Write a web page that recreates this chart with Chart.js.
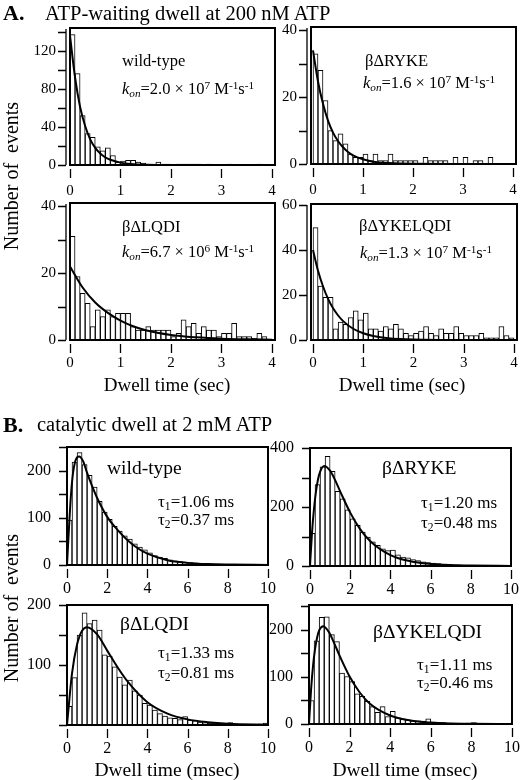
<!DOCTYPE html>
<html>
<head>
<meta charset="utf-8">
<script src="https://cdn.jsdelivr.net/npm/chart.js@4"></script>
<style>
  body { margin: 0; background: #fff; width: 520px; height: 780px; position: relative; overflow: hidden; font-family: "Liberation Serif", "DejaVu Serif", serif; }
  .panel { position: absolute; }
  .t { position: absolute; white-space: nowrap; line-height: 1; color: #000; z-index: 5; }
  .t sub { font-size: 0.68em; vertical-align: -0.25em; }
  .t sup { font-size: 0.68em; vertical-align: 0.45em; }
  .c { transform: translateX(-50%); }
  .rot { transform: translate(-50%, -50%) rotate(-90deg); font-size: 20px; }
</style>
</head>
<body>

<div class="t" style="left:3px;top:2px;font-size:22px;font-weight:bold">A.</div>
<div class="t" style="left:45px;top:3px;font-size:20.5px">ATP-waiting dwell at 200 nM ATP</div>
<div class="t" style="left:3px;top:414px;font-size:22px;font-weight:bold">B.</div>
<div class="t" style="left:37px;top:414px;font-size:20.5px">catalytic dwell at 2 mM ATP</div>

<div class="t" style="left:122px;top:53px;font-size:16.5px">wild-type</div>
<div class="t" style="left:122px;top:80px;font-size:16.5px"><i>k</i><sub><i>on</i></sub>=2.0 × 10<sup>7</sup> M<sup>-1</sup>s<sup>-1</sup></div>
<div class="t" style="left:365px;top:53px;font-size:16.5px">βΔRYKE</div>
<div class="t" style="left:363px;top:74px;font-size:16.5px"><i>k</i><sub><i>on</i></sub>=1.6 × 10<sup>7</sup> M<sup>-1</sup>s<sup>-1</sup></div>
<div class="t" style="left:122px;top:219px;font-size:16.5px">βΔLQDI</div>
<div class="t" style="left:122px;top:243px;font-size:16.5px"><i>k</i><sub><i>on</i></sub>=6.7 × 10<sup>6</sup> M<sup>-1</sup>s<sup>-1</sup></div>
<div class="t" style="left:359px;top:218px;font-size:16.5px">βΔYKELQDI</div>
<div class="t" style="left:360px;top:244px;font-size:16.5px"><i>k</i><sub><i>on</i></sub>=1.3 × 10<sup>7</sup> M<sup>-1</sup>s<sup>-1</sup></div>

<div class="t" style="left:107px;top:458px;font-size:19.5px">wild-type</div>
<div class="t" style="left:158px;top:493px;font-size:17px">τ<sub>1</sub>=1.06 ms</div>
<div class="t" style="left:158px;top:511px;font-size:17px">τ<sub>2</sub>=0.37 ms</div>
<div class="t" style="left:382px;top:458px;font-size:19.5px">βΔRYKE</div>
<div class="t" style="left:421px;top:494px;font-size:17px">τ<sub>1</sub>=1.20 ms</div>
<div class="t" style="left:421px;top:514px;font-size:17px">τ<sub>2</sub>=0.48 ms</div>
<div class="t" style="left:120px;top:614px;font-size:19.5px">βΔLQDI</div>
<div class="t" style="left:158px;top:644px;font-size:17px">τ<sub>1</sub>=1.33 ms</div>
<div class="t" style="left:158px;top:664px;font-size:17px">τ<sub>2</sub>=0.81 ms</div>
<div class="t" style="left:373px;top:622px;font-size:19.5px">βΔYKELQDI</div>
<div class="t" style="left:417px;top:656px;font-size:17px">τ<sub>1</sub>=1.11 ms</div>
<div class="t" style="left:417px;top:674px;font-size:17px">τ<sub>2</sub>=0.46 ms</div>

<div class="t c" style="left:167px;top:375px;font-size:19px">Dwell time (sec)</div>
<div class="t c" style="left:402px;top:375px;font-size:19px">Dwell time (sec)</div>
<div class="t c" style="left:167px;top:760px;font-size:19.5px">Dwell time (msec)</div>
<div class="t c" style="left:405px;top:760px;font-size:19.5px">Dwell time (msec)</div>
<div class="t rot" style="left:11px;top:176px">Number of&nbsp; events</div>
<div class="t rot" style="left:11px;top:608px">Number of&nbsp; events</div>

<script>
// bin centres (0.1 s bins for A, 0.25 ms bins for B)
const secBins = [0.05, 0.15, 0.25, 0.35, 0.45, 0.55, 0.65, 0.75, 0.85, 0.95,
                 1.05, 1.15, 1.25, 1.35, 1.45, 1.55, 1.65, 1.75, 1.85, 1.95,
                 2.05, 2.15, 2.25, 2.35, 2.45, 2.55, 2.65, 2.75, 2.85, 2.95,
                 3.05, 3.15, 3.25, 3.35, 3.45, 3.55, 3.65, 3.75, 3.85, 3.95];
const msBins = [0.125, 0.375, 0.625, 0.875, 1.125, 1.375, 1.625, 1.875, 2.125, 2.375,
                2.625, 2.875, 3.125, 3.375, 3.625, 3.875, 4.125, 4.375, 4.625, 4.875,
                5.125, 5.375, 5.625, 5.875, 6.125, 6.375, 6.625, 6.875, 7.125, 7.375,
                7.625, 7.875, 8.125, 8.375, 8.625, 8.875, 9.125, 9.375, 9.625, 9.875];

// A. ATP-waiting dwell histograms (counts per bin)
const wtWait     = [137, 96, 52, 33, 29, 19, 15, 18, 10, 3, 4, 5, 5, 3, 2, 1, 1, 3, 1, 1,
                    0, 1, 1, 1, 1, 1, 0, 1, 0, 0, 0, 1, 0, 0, 0, 0, 0, 1, 0, 0];
const rykeWait   = [33, 28, 19, 10, 7, 9, 6, 3, 2, 2, 3, 1, 3, 1, 1, 3, 1, 1, 1, 1,
                    1, 0, 2, 1, 1, 1, 1, 0, 2, 0, 2, 0, 1, 1, 0, 2, 0, 0, 0, 0];
const lqdiWait   = [31, 19, 14, 11, 4, 9, 7, 9, 7, 8, 8, 8, 4, 3, 3, 4, 3, 3, 3, 3,
                    1, 2, 6, 4, 5, 2, 4, 3, 3, 1, 2, 2, 5, 1, 1, 1, 0.5, 2, 1, 0];
const ykelWait   = [50, 24, 19, 19, 5, 8, 7, 10, 13, 9, 12, 5, 5, 4, 6, 5, 7, 5, 3, 2,
                    3, 4, 6, 3, 2, 5, 3, 3, 6, 3, 2, 2, 2, 3, 1, 1, 1, 6, 2, 1];

// fitted single exponentials
const waitFitX   = [0, 0.1, 0.2, 0.3, 0.4, 0.5, 0.6, 0.7, 0.8, 1.0, 1.2, 1.5, 2, 3, 4];
const wtWaitFit  = [136, 92, 61, 41, 27, 18, 12, 8, 5.5, 2.5, 1.1, 0.3, 0.05, 0, 0];
const rykeWaitFit= [34, 24.7, 18, 13, 9.4, 6.9, 5, 3.6, 2.6, 1.4, 0.7, 0.3, 0.05, 0, 0];
const lqdiFitX   = [0, 0.25, 0.5, 0.75, 1, 1.25, 1.5, 2, 2.5, 3, 3.5, 4];
const lqdiWaitFit= [22, 15.7, 11.2, 8.1, 5.8, 4.1, 2.9, 1.5, 0.8, 0.4, 0.2, 0.1];
const ykelFitX   = [0, 0.1, 0.2, 0.3, 0.4, 0.5, 0.6, 0.8, 1.0, 1.2, 1.5, 2, 3, 4];
const ykelWaitFit= [40, 30.8, 23.8, 18.3, 14.1, 10.9, 8.4, 5, 3, 1.8, 0.8, 0.2, 0, 0];

// B. catalytic dwell histograms
const wtCat   = [95, 218, 238, 213, 190, 165, 135, 112, 97, 82, 72, 62, 55, 45, 38, 32, 26, 20, 17, 14,
                 11, 9, 7, 6, 5, 4, 3, 3, 2, 2, 2, 1, 1, 2, 1, 1, 0, 0, 0, 0];
const rykeCat = [111, 276, 336, 372, 321, 253, 228, 190, 160, 138, 115, 98, 82, 70, 58, 52, 54, 38, 30, 28,
                 22, 18, 14, 12, 10, 8, 6, 5, 4, 4, 3, 2, 2, 1, 1, 1, 0, 1, 0, 0];
const lqdiCat = [31, 79, 150, 187, 169, 175, 158, 117, 115, 97, 80, 67, 75, 57, 50, 36, 33, 25, 19, 15,
                 12, 11, 9, 14, 8, 7, 5, 4, 3, 3, 3, 2, 4, 2, 1, 1, 1, 0, 2, 3];
const ykelCat = [50, 177, 227, 228, 190, 175, 108, 101, 90, 64, 59, 48, 37, 25, 37, 16, 27, 13, 11, 9,
                 7, 7, 6, 11, 4, 3, 3, 2, 2, 2, 1, 2, 3, 1, 1, 1, 1, 0, 0, 0];

// two-step fits
const wtCatFitX   = [0, 0.1, 0.2, 0.3, 0.4, 0.5, 0.6, 0.8, 1.0, 1.25, 1.5, 2, 2.5, 3, 3.5, 4, 5, 6, 7, 8, 10];
const wtCatFit    = [0, 80, 150, 195, 218, 228, 230, 220, 195, 167, 142, 102, 75, 53, 36, 24, 10, 4.5, 2, 1, 0.2];
const catFitX     = [0, 0.1, 0.2, 0.3, 0.4, 0.5, 0.7, 1.0, 1.25, 1.5, 2, 2.5, 3, 4, 5, 6, 7, 8, 10];
const rykeCatFit  = [0, 113, 195, 254, 294, 319, 339, 323, 291, 253, 181, 124, 84, 37, 16, 7, 3, 1.3, 0.2];
const ykelCatFit  = [0, 72, 124, 160, 184, 199, 208, 194, 171, 146, 101, 67, 43, 18, 7.3, 3, 1.2, 0.5, 0.1];
const lqdiCatFitX = [0, 0.25, 0.5, 0.75, 1.0, 1.5, 2, 2.5, 3, 4, 5, 6, 7, 8, 10];
const lqdiCatFit  = [0, 86, 134, 157, 163, 151, 124, 97, 73, 38, 19, 9.4, 4.7, 2.2, 0.5];

// draws the closed frame plus Igor-style tick marks
const frame = {
  id: 'frame',
  afterDraw(chart, args, opts) {
    const { ctx, chartArea: a, scales: { x, y } } = chart;
    ctx.save();
    ctx.strokeStyle = '#000';
    ctx.lineWidth = 2;
    ctx.strokeRect(a.left, a.top, a.right - a.left, a.bottom - a.top);
    ctx.lineWidth = 1.3;
    ctx.beginPath();
    const ax = a.left - opts.yGap;
    if (opts.yGap > 0) {
      ctx.moveTo(ax, y.getPixelForValue(0));
      ctx.lineTo(ax, a.top + 1);
    }
    y.ticks.forEach(t => {
      const py = Math.round(y.getPixelForValue(t.value)) + 0.5;
      ctx.moveTo(ax, py);
      ctx.lineTo(ax - 8, py);
    });
    x.ticks.forEach(t => {
      const px = Math.round(x.getPixelForValue(t.value)) + 0.5;
      ctx.moveTo(px, a.bottom + 4);
      ctx.lineTo(px, a.bottom + 13);
    });
    ctx.stroke();
    ctx.restore();
  }
};

const YW = 50, XH = 40, PADT = 12, PADR = 12;

function noOverflow(s) {
  s.paddingTop = 0;
  s.paddingBottom = 0;
  s.paddingLeft = 0;
  s.paddingRight = 0;
}

function makePanel(box, bins, counts, fitX, fitY, sc) {
  const [L, T, R, B] = box;
  const div = document.createElement('div');
  div.className = 'panel';
  div.style.left = (L - YW) + 'px';
  div.style.top = (T - PADT) + 'px';
  div.style.width = (R - L + YW + PADR) + 'px';
  div.style.height = (B - T + PADT + XH) + 'px';
  const cv = document.createElement('canvas');
  div.appendChild(cv);
  document.body.appendChild(div);

  const fontSize = sc.font;
  new Chart(cv, {
    type: 'bar',
    data: {
      datasets: [
        {
          type: 'line',
          data: fitX.map((v, i) => ({ x: v, y: fitY[i] })),
          borderColor: '#000',
          borderWidth: 2,
          pointRadius: 0,
          cubicInterpolationMode: 'monotone',
          order: 0
        },
        {
          type: 'bar',
          data: bins.map((v, i) => ({ x: v, y: counts[i] })),
          backgroundColor: '#fff',
          borderColor: '#000',
          borderWidth: 1,
          barPercentage: 1,
          categoryPercentage: 1,
          order: 1
        }
      ]
    },
    options: {
      responsive: true,
      maintainAspectRatio: false,
      animation: false,
      layout: { padding: { left: 0, top: PADT, right: PADR, bottom: 0 } },
      plugins: {
        legend: { display: false },
        tooltip: { enabled: false },
        frame: { yGap: sc.yGap }
      },
      scales: {
        x: {
          type: 'linear',
          offset: false,
          min: sc.xmin,
          max: sc.xmax,
          grid: { display: false, drawTicks: false },
          border: { display: false },
          afterFit(s) { s.height = XH; noOverflow(s); },
          ticks: {
            stepSize: sc.xstep,
            includeBounds: false,
            autoSkip: false,
            maxRotation: 0,
            padding: sc.xpad,
            color: '#000',
            font: { family: 'Liberation Serif', size: fontSize }
          }
        },
        y: {
          min: 0,
          max: sc.ymax,
          grid: { display: false, drawTicks: false },
          border: { display: false },
          afterFit(s) { s.width = YW; noOverflow(s); },
          ticks: {
            stepSize: sc.ystep,
            includeBounds: false,
            autoSkip: false,
            padding: sc.ypad,
            color: '#000',
            font: { family: 'Liberation Serif', size: fontSize },
            callback: v => (v % sc.ymajor === 0 && !(sc.noZero && v === 0)) ? v : ''
          }
        }
      }
    },
    plugins: [frame]
  });
}

const aScale = (ymax, ystep, ymajor, xmin, xpad) =>
  ({ xmin: xmin, xmax: 4.06, xstep: 1, ymax, ystep, ymajor, font: 15, ypad: 14, xpad, yGap: 4 });
const bScale = (ymax, ystep, ymajor, noZero) =>
  ({ xmin: 0, xmax: 10, xstep: 2, ymax, ystep, ymajor, noZero, font: 16, ypad: 16, xpad: 14, yGap: 0 });

makePanel([70, 28, 275, 165],  secBins, wtWait,   waitFitX, wtWaitFit,   aScale(144, 20, 40, 0, 17));
makePanel([311, 27, 516, 164], secBins, rykeWait, waitFitX, rykeWaitFit, aScale(41, 10, 20, -0.04, 17));
makePanel([70, 203, 275, 340], secBins, lqdiWait, lqdiFitX, lqdiWaitFit, aScale(41, 10, 20, 0, 14));
makePanel([311, 204, 517, 340],secBins, ykelWait, ykelFitX, ykelWaitFit, aScale(60.5, 20, 20, -0.04, 14));

makePanel([67, 447, 268, 565],  msBins, wtCat,   wtCatFitX,   wtCatFit,   bScale(250, 50, 100, false));
makePanel([310, 448, 511, 566], msBins, rykeCat, catFitX,     rykeCatFit, bScale(400, 100, 200, false));
makePanel([67, 605, 268, 725],  msBins, lqdiCat, lqdiCatFitX, lqdiCatFit, bScale(200, 50, 100, true));
makePanel([309, 605, 512, 724], msBins, ykelCat, catFitX,     ykelCatFit, bScale(253, 50, 100, false));
</script>
</body>
</html>
